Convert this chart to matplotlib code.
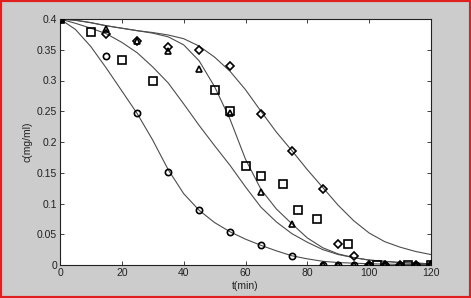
import matplotlib
matplotlib.use("Agg")
import matplotlib.pyplot as plt
from matplotlib.patches import Rectangle

# ---- measured data (t in min, c in mg/ml) ----
t_circle = [0, 15, 25, 35, 45, 55, 65, 75, 85, 90, 95, 100, 105, 110, 115, 120]
c_circle = [0.4, 0.34, 0.247, 0.151, 0.089, 0.054, 0.033, 0.015, 0, 0, 0, 0, 0, 0, 0, 0]

t_square = [0, 10, 20, 30, 50, 55, 60, 65, 72, 77, 83, 93, 102.5, 112.5, 120]
c_square = [0.4, 0.379, 0.334, 0.299, 0.284, 0.251, 0.161, 0.145, 0.131, 0.09, 0.075, 0.034, 0, 0, 0]

t_tri = [0, 15, 25, 35, 45, 55, 65, 75, 85, 90, 95, 100, 105, 110, 115, 120]
c_tri = [0.4, 0.383, 0.365, 0.348, 0.319, 0.247, 0.118, 0.067, 0, 0, 0, 0, 0, 0, 0, 0]

t_dia = [0, 15, 25, 35, 45, 55, 65, 75, 85, 90, 95, 100, 105, 110, 115, 120]
c_dia = [0.4, 0.376, 0.364, 0.355, 0.35, 0.323, 0.245, 0.186, 0.124, 0.034, 0.015, 0, 0, 0, 0, 0]

# ---- fitted curves ----
t_fit = [0, 5, 10, 15, 20, 25, 30, 35, 40, 45, 50, 55, 60, 65, 70, 75, 80, 85, 90, 95, 100, 105, 110, 115, 120]
fit_a = [0.400, 0.383, 0.355, 0.320, 0.283, 0.246, 0.203, 0.155, 0.116, 0.089, 0.069, 0.054, 0.042, 0.032, 0.023, 0.015,
         0.010, 0.006, 0.004, 0.003, 0.002, 0.0015, 0.001, 0.0008, 0.0005]
fit_b = [0.400, 0.393, 0.385, 0.376, 0.362, 0.345, 0.322, 0.296, 0.262, 0.227, 0.194, 0.162, 0.127, 0.094, 0.070, 0.051,
         0.037, 0.025, 0.017, 0.012, 0.008, 0.006, 0.004, 0.003, 0.002]
fit_c = [0.400, 0.398, 0.394, 0.389, 0.385, 0.381, 0.377, 0.371, 0.358, 0.332, 0.290, 0.237, 0.172, 0.123, 0.091, 0.067,
         0.044, 0.028, 0.018, 0.012, 0.008, 0.006, 0.004, 0.003, 0.002]
fit_d = [0.400, 0.398, 0.394, 0.389, 0.385, 0.381, 0.378, 0.374, 0.368, 0.356, 0.338, 0.315, 0.285, 0.250, 0.216, 0.186,
         0.155, 0.126, 0.097, 0.072, 0.052, 0.038, 0.029, 0.022, 0.017]

x_ticks = [0, 20, 40, 60, 80, 100, 120]
y_ticks = [0, 0.05, 0.1, 0.15, 0.2, 0.25, 0.3, 0.35, 0.4]
y_ticklabels = ["0", "0.05", "0.1", "0.15", "0.2", "0.25", "0.3", "0.35", "0.4"]

plt.rcParams['font.family'] = ['Liberation Sans', 'DejaVu Sans']

fig = plt.figure(figsize=(4.71, 2.98), dpi=100)
fig.patch.set_facecolor('#cccccc')
ax = fig.add_axes([60/471, 33/298, 371/471, 246/298])
ax.set_facecolor('white')

line_col = '#4d4d4d'
for f in (fit_a, fit_b, fit_c, fit_d):
    ax.plot(t_fit, f, color=line_col, lw=0.8, zorder=2)

mk = dict(linestyle='none', mfc='none', mec='black', mew=1.2, zorder=3)
ax.plot(t_circle, c_circle, marker='o', ms=4.5, **mk)
ax.plot(t_square, c_square, marker='s', ms=5.5, **mk)
ax.plot(t_tri, c_tri, marker='^', ms=5, **mk)
ax.plot(t_dia, c_dia, marker='D', ms=4.2, **mk)

ax.set_xlim(0, 120)
ax.set_ylim(0, 0.4)
ax.set_xticks(x_ticks)
ax.set_yticks(y_ticks)
ax.set_yticklabels(y_ticklabels)
ax.tick_params(direction='in', length=3, width=0.6, labelsize=7.5, colors='#222222',
               top=True, right=True, pad=2)
for s in ax.spines.values():
    s.set_linewidth(0.8)
    s.set_color('#222222')

ax.set_xlabel('t(min)', fontsize=7.5, labelpad=2, color='#222222')
ax.set_ylabel('c(mg/ml)', fontsize=7.5, labelpad=3, color='#222222')

fig.patches.append(Rectangle((0, 0), 1, 1, transform=fig.transFigure, fill=False,
                             edgecolor='#e02020', lw=3, zorder=10))

fig.savefig('out.png', dpi=100, facecolor=fig.get_facecolor())
